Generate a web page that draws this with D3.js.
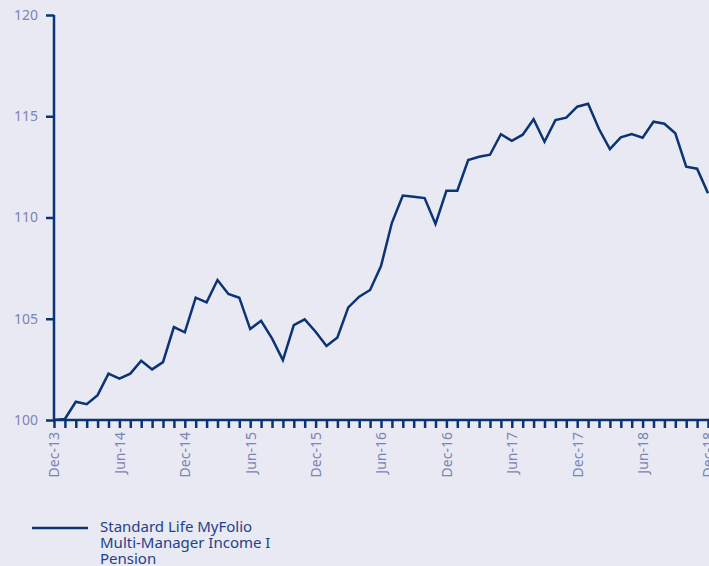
<!DOCTYPE html>
<html>
<head>
<meta charset="utf-8">
<script src="https://cdn.jsdelivr.net/npm/d3@7"></script>
<style>
  html, body { margin: 0; padding: 0; background: #e8e9f2; }
  svg { display: block; font-family: "Noto Sans", sans-serif; }
  .tickLabel { fill: #7b84b6; font-size: 14px; }
  .legendText { fill: #1f418c; font-size: 15px; }
</style>
</head>
<body>
<div id="chart"></div>
<script>
// Monthly index values, Dec-13 .. Dec-18 (61 points)
var values = [
  100.0, 100.05, 100.9, 100.78, 101.23, 102.29, 102.04, 102.29, 102.93, 102.5,
  102.86, 104.59, 104.33, 106.04, 105.81, 106.91, 106.22, 106.04, 104.49, 104.9,
  104.03, 102.96, 104.69, 104.97, 104.36, 103.65, 104.08, 105.56, 106.09, 106.42,
  107.6, 109.74, 111.08, 111.03, 110.96, 109.68, 111.32, 111.32, 112.84, 113.0,
  113.1, 114.11, 113.79, 114.09, 114.85, 113.74, 114.81, 114.93, 115.47, 115.62,
  114.37, 113.38, 113.96, 114.12, 113.94, 114.73, 114.63, 114.16, 112.51, 112.41,
  111.2
];
// Labelled months (every 6th month from Dec-13)
var tickLabels = ["Dec-13", "Jun-14", "Dec-14", "Jun-15", "Dec-15", "Jun-16",
  "Dec-16", "Jun-17", "Dec-17", "Jun-18", "Dec-18"];
var yTicks = [100, 105, 110, 115, 120];
var seriesName = ["Standard Life MyFolio", "Multi-Manager Income I", "Pension"];

var svgWidth = 709;
var svgHeight = 566;
var navy = "#0b3474";

var svg = d3.select("#chart")
  .append("svg")
  .attr("width", svgWidth)
  .attr("height", svgHeight);

var xScale = d3.scaleLinear()
  .domain([0, values.length - 1])
  .range([54, 708]);
var yScale = d3.scaleLinear()
  .domain([100, 120])
  .range([420, 15]);

// x-axis: a tick every month, label every 6 months
var xAxis = d3.axisBottom(xScale)
  .tickValues(d3.range(values.length))
  .tickSize(8)
  .tickFormat(i => i % 6 === 0 ? tickLabels[i / 6] : "");
var gx = svg.append("g")
  .attr("transform", "translate(0, 420)")
  .call(xAxis)
  .attr("font-family", null)
  .attr("font-size", null);
gx.select(".domain").attr("stroke", navy).attr("stroke-width", 2.5)
  .attr("d", "M54,0H709");
gx.selectAll(".tick line").attr("stroke", navy).attr("stroke-width", 2.5);
gx.selectAll(".tick text")
  .attr("class", "tickLabel")
  .attr("fill", null)
  .attr("transform", "rotate(-90)")
  .attr("text-anchor", "end")
  .attr("x", -12)
  .attr("y", 0)
  .attr("dy", "0.35em");

// y-axis
var yAxis = d3.axisLeft(yScale)
  .tickValues(yTicks)
  .tickSize(8)
  .tickPadding(8);
var gy = svg.append("g")
  .attr("transform", "translate(54, 0)")
  .call(yAxis)
  .attr("font-family", null)
  .attr("font-size", null);
gy.select(".domain").attr("stroke", navy).attr("stroke-width", 2.5)
  .attr("d", "M0,15V420");
gy.selectAll(".tick line").attr("stroke", navy).attr("stroke-width", 2.5);
gy.selectAll(".tick text").attr("class", "tickLabel").attr("fill", null);

// the series line
var line = d3.line()
  .x((d, i) => xScale(i))
  .y(d => yScale(d));
svg.append("path")
  .datum(values)
  .attr("fill", "none")
  .attr("stroke", navy)
  .attr("stroke-width", 2.5)
  .attr("d", line);

// legend
svg.append("line")
  .attr("x1", 32).attr("x2", 88)
  .attr("y1", 528).attr("y2", 528)
  .attr("stroke", navy)
  .attr("stroke-width", 2.5);
svg.append("text")
  .attr("class", "legendText")
  .selectAll("tspan")
  .data(seriesName)
  .enter()
  .append("tspan")
  .attr("x", 100)
  .attr("y", (d, i) => 532 + i * 16)
  .text(d => d);
</script>
</body>
</html>
